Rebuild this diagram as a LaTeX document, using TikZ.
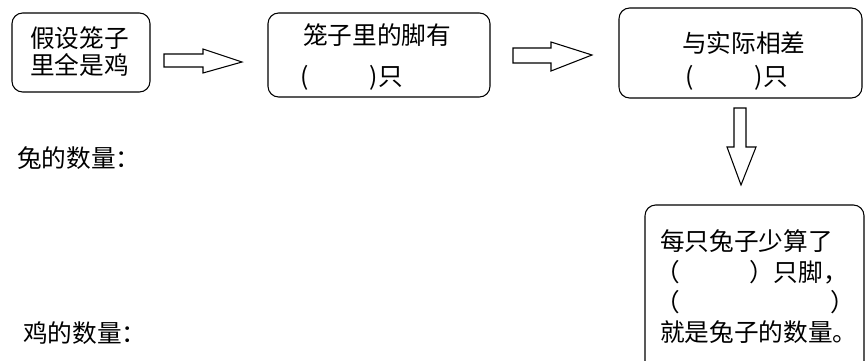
\documentclass[tikz,border=0pt]{standalone}
\usepackage{fontspec}
\newfontfamily\cjk{Noto Sans CJK SC}
\usetikzlibrary{positioning}

\tikzset{
  roundbox/.style={draw, rounded corners=8pt, line width=0.8pt, inner sep=0pt},
  boxtext/.style={anchor=west, inner sep=0pt, font=\cjk\fontsize{18.5}{22}\selectfont},
  blockarrow/.style={draw, line width=0.8pt, fill=white, line join=miter},
}

\begin{document}
\begin{tikzpicture}[x=0.75pt,y=0.75pt,yscale=-1,xscale=1]
    \useasboundingbox (0,0) rectangle (866,360);
    %Rounded Rect [cage]
    \node[roundbox, minimum width=103.5pt, minimum height=59.25pt] (cage) at (81,52.5) {};
    %Rounded Rect [feet]
    \node[roundbox, minimum width=166.5pt, minimum height=63pt] (feet) at (379,55) {};
    %Rounded Rect [diff]
    \node[roundbox, minimum width=182.25pt, minimum height=67.5pt] (diff) at (740.5,53) {};
    %Rounded Rect [rabbit] (runs past the bottom edge)
    \begin{scope}
      \clip (0,0) rectangle (866,360);
      \node[roundbox, minimum width=164.25pt, minimum height=127.5pt] (rabbit) at (754.5,290) {};
    \end{scope}
    %Block Arrow [id:ar1]
    \draw[blockarrow] (164,54) -- (203,54) -- (203,49) -- (242,62) -- (203,73) -- (203,67) -- (164,67) -- cycle ;
    %Block Arrow [id:ar2]
    \draw[blockarrow] (513,48) -- (551,48) -- (551,42) -- (592,55) -- (551,71) -- (551,63) -- (513,63) -- cycle ;
    %Block Arrow [id:ar3]
    \draw[blockarrow] (734,108) -- (746,108) -- (746,147) -- (756,147) -- (741,185) -- (727,147) -- (734,147) -- cycle ;
    % Text Node
    \node[boxtext] (cageA) at (30,38) {假设笼子};
    \node[boxtext] (cageB) at (30,65) {里全是鸡};
    % Text Node
    \node[boxtext] (feetA) at (303,35) {笼子里的脚有};
    \node[boxtext] (feetB) at (300,78) {(\hspace{46pt})只};
    % Text Node
    \node[boxtext] (diffA) at (682,43) {与实际相差};
    \node[boxtext] (diffB) at (685,78) {(\hspace{46pt})只};
    % Text Node
    \node[boxtext] (rabbitA) at (660,241) {每只兔子少算了};
    \node[boxtext] (rabbitB) at (655,272) {（\hspace{2.8em}）只脚，};
    \node[boxtext] (rabbitC) at (655,302) {（\hspace{6.1em}）};
    \node[boxtext] (rabbitD) at (660,332) {就是兔子的数量。};
    % Text Node
    \node[boxtext] (rabbitnum) at (17,158) {兔的数量：};
    \node[boxtext] (chicknum) at (23,333) {鸡的数量：};
\end{tikzpicture}
\end{document}
